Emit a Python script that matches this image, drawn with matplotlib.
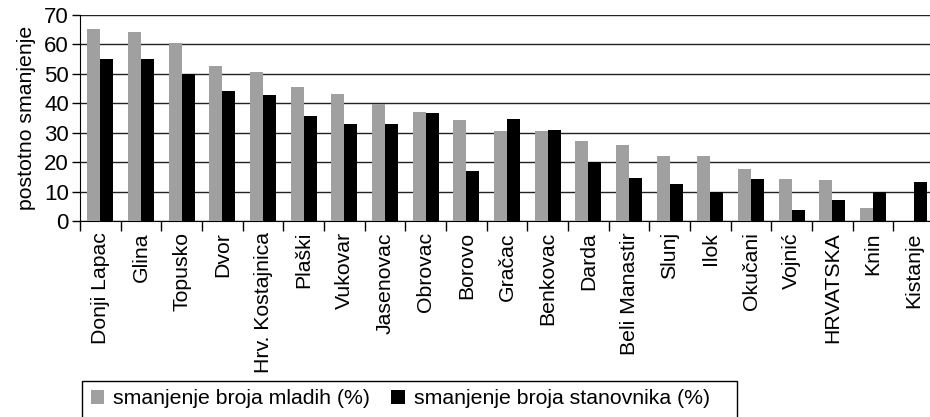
import numpy as np
import matplotlib
matplotlib.use('Agg')
import matplotlib.pyplot as plt
from matplotlib.patches import Rectangle

plt.rcParams['font.family'] = ['Liberation Sans', 'DejaVu Sans']

# Data
places = ['Donji Lapac', 'Glina', 'Topusko', 'Dvor', 'Hrv. Kostajnica', 'Plaški',
          'Vukovar', 'Jasenovac', 'Obrovac', 'Borovo', 'Gračac', 'Benkovac',
          'Darda', 'Beli Manastir', 'Slunj', 'Ilok', 'Okučani', 'Vojnić',
          'HRVATSKA', 'Knin', 'Kistanje']
young = [65.0, 64.0, 60.2, 52.5, 50.7, 45.5, 43.2, 39.8, 37.0, 34.1, 30.4, 30.4,
         27.0, 25.7, 21.9, 21.9, 17.6, 14.2, 13.8, 4.3, 0.0]
population = [55.0, 55.0, 50.0, 44.2, 42.7, 35.6, 32.8, 32.8, 36.5, 17.1, 34.7, 30.8,
              19.9, 14.7, 12.4, 10.0, 14.2, 3.8, 7.1, 10.0, 13.3]
series_labels = ['smanjenje broja mladih (%)', 'smanjenje broja stanovnika (%)']
y_ticks = [0, 10, 20, 30, 40, 50, 60, 70]

fig = plt.figure(figsize=(9.3, 4.17), dpi=100)
ax = fig.add_axes((80 / 930, 0.47, 854 / 930, 0.495))

x = np.arange(len(places))
w = 0.32
ax.bar(x - w / 2, young, w, color='#a0a0a0', label=series_labels[0], zorder=3)
ax.bar(x + w / 2, population, w, color='black', label=series_labels[1], zorder=3)

ax.set_xlim(-0.5, len(places) - 0.5)
ax.set_ylim(0, 70)
ax.set_yticks(y_ticks)
ax.yaxis.grid(True, color='#222222', linewidth=1.0, zorder=0)
ax.set_axisbelow(True)

# category labels at centres, tick marks between categories
ax.set_xticks(x)
ax.set_xticklabels(places, rotation=90, fontsize=15.3)
ax.set_xticks(np.arange(len(places) + 1) - 0.5, minor=True)
ax.tick_params(axis='x', which='major', length=0, pad=8)
ax.tick_params(axis='x', which='minor', length=7, width=1, color='black')
ax.tick_params(axis='y', length=6, width=1, labelsize=16, pad=2, color='black')

for s in ['top', 'right']:
    ax.spines[s].set_visible(False)
ax.spines['left'].set_color('black')
ax.spines['bottom'].set_color('black')

ax.set_ylabel('postotno smanjenje', fontsize=15.3, labelpad=6)

leg = fig.legend(loc='upper left', bbox_to_anchor=(82 / 930, 1 - 381 / 417), ncol=2,
                 fontsize=15.3, frameon=False, borderaxespad=0,
                 handlelength=0.62, handleheight=0.62, handletextpad=0.45,
                 columnspacing=1.0, borderpad=0.4)

# legend box, running off the bottom edge like the original
fig.patches.append(Rectangle((82 / 930, -0.05), (737 - 82) / 930, 0.05 + 1 - 381 / 417,
                             transform=fig.transFigure, fill=False,
                             edgecolor='black', linewidth=1.0))

fig.savefig('out.png', dpi=100)
